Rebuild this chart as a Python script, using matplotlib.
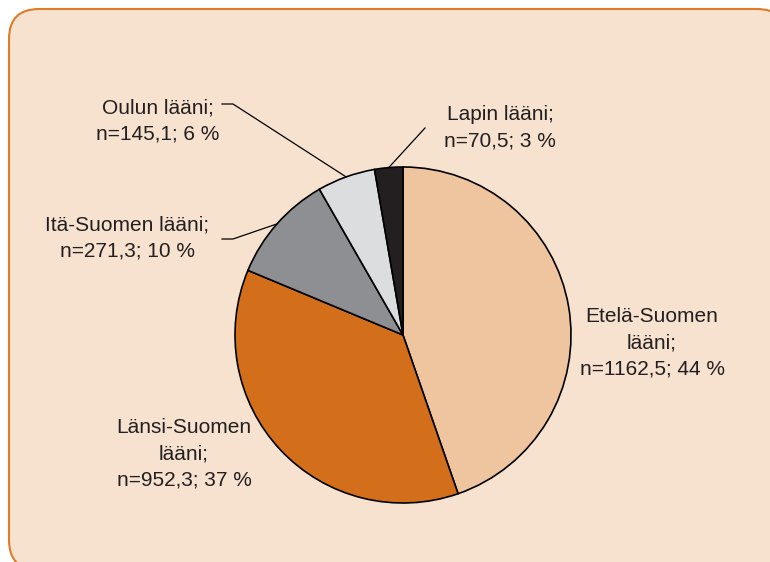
import numpy as np
import matplotlib
matplotlib.use('Agg')
import matplotlib.pyplot as plt
from matplotlib.patches import FancyBboxPatch

plt.rcParams['font.family'] = ['Liberation Sans', 'DejaVu Sans']

# data
regions = ['Etelä-Suomen lääni', 'Länsi-Suomen lääni', 'Itä-Suomen lääni',
           'Oulun lääni', 'Lapin lääni']
values = [1162.5, 952.3, 271.3, 145.1, 70.5]
percents = [44, 37, 10, 6, 3]
colors = ['#EFC59F', '#D36F1A', '#8E8F92', '#DCDDDF', '#231F20']

W, H = 770, 562
fig = plt.figure(figsize=(W / 100, H / 100), dpi=100)
ax = fig.add_axes([0, 0, 1, 1])

def py(y):
    # image row -> axes y
    return H - y

cx, cy, r = 403, py(335), 168
wedges, _ = ax.pie(values, colors=colors, startangle=90, counterclock=False,
                   center=(cx, cy), radius=r, frame=True,
                   wedgeprops=dict(edgecolor='black', linewidth=1.2))
ax.set_xlim(0, W)
ax.set_ylim(0, H)
ax.set_aspect('equal')
ax.axis('off')

# background panel
panel = FancyBboxPatch((9, py(570)), 778, 561,
                       boxstyle='round,pad=0,rounding_size=30',
                       facecolor='#F7E2D0', edgecolor='#E07B28', lw=1.5,
                       zorder=0)
ax.add_patch(panel)

def mid_point(i):
    w = wedges[i]
    ang = np.deg2rad((w.theta1 + w.theta2) / 2)
    return cx + r * np.cos(ang), cy + r * np.sin(ang)

def fmt(v):
    return str(v).replace('.', ',')

txt = dict(ha='center', va='center', fontsize=15, color='#231F20',
           linespacing=1.48)

# labels
ax.text(652, py(343), 'Etelä-Suomen\nlääni;\nn=%s; %d %%' %
        (fmt(values[0]), percents[0]), **txt)
ax.text(184, py(454), 'Länsi-Suomen\nlääni;\nn=%s; %d %%' %
        (fmt(values[1]), percents[1]), **txt)
ax.text(127, py(238), 'Itä-Suomen lääni;\nn=%s; %d %%' %
        (fmt(values[2]), percents[2]), **txt)
ax.text(158, py(121), 'Oulun lääni;\nn=%s; %d %%' %
        (fmt(values[3]), percents[3]), **txt)
ax.text(500, py(128), 'Lapin lääni;\nn=%s; %d %%' %
        (fmt(values[4]), percents[4]), **txt)

# leader lines
lk = dict(color='black', lw=0.9)
x, y = mid_point(2)
ax.plot([222, 233, x], [py(239), py(239), y], **lk)
x, y = mid_point(3)
ax.plot([222, 233, x], [py(104), py(104), y], **lk)
x, y = mid_point(4)
ax.plot([425, x], [py(128), y], **lk)

fig.savefig('out.png', dpi=100)
